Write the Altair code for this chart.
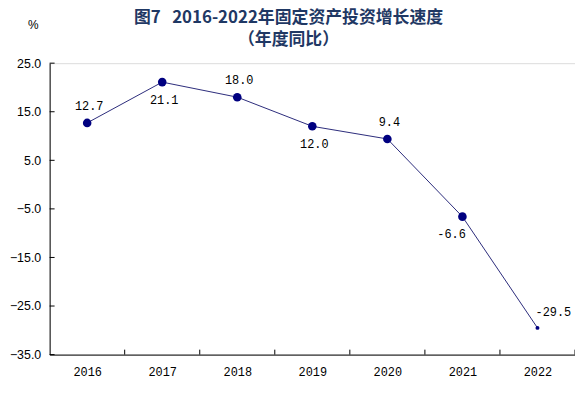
import altair as alt
import pandas as pd

years = [2016, 2017, 2018, 2019, 2020, 2021, 2022]
growth = [12.7, 21.1, 18.0, 12.0, 9.4, -6.6, -29.5]
labels = ["12.7", "21.1", "18.0", "12.0", "9.4", "-6.6", "-29.5"]
y_ticks = [25, 15, 5, -5, -15, -25, -35]
x_boundaries = [2016.5, 2017.5, 2018.5, 2019.5, 2020.5, 2021.5, 2022.5]

df = pd.DataFrame({"year": years, "value": growth, "label": labels})
ydf = pd.DataFrame({"v": y_ticks})
xdf = pd.DataFrame({"b": x_boundaries})

NAVY = "#000080"
LINE = "#2b2b7a"
H = 294

xscale = alt.Scale(domain=[2015.5, 2022.5], nice=False, zero=False)
yscale = alt.Scale(domain=[-35, 25], nice=False, zero=False)

base = alt.Chart(df)

xaxis = alt.Axis(values=years, format="d", tickSize=0, labelPadding=12, labelFontSize=12,
                 labelFont="Liberation Mono", labelColor="#000", domainColor="#000",
                 grid=False, title=None)
yaxis = alt.Axis(values=y_ticks, format=".1f", tickSize=0, labelPadding=9, labelFontSize=12.5,
                 labelFont="Liberation Sans", labelColor="#000", domainColor="#000",
                 grid=False, title="%", titleAngle=0, titleX=-17, titleY=-39,
                 titleAlign="center", titleBaseline="middle", titleFontWeight="normal",
                 titleFontSize=12, titleFont="Liberation Sans")

line = base.mark_line(color=LINE, strokeWidth=1).encode(
    x=alt.X("year:Q", scale=xscale, axis=xaxis),
    y=alt.Y("value:Q", scale=yscale, axis=yaxis),
)

pts_big = base.transform_filter(alt.datum.year < 2022).mark_point(
    filled=True, color=NAVY, size=75, opacity=1).encode(
    x=alt.X("year:Q", scale=xscale), y=alt.Y("value:Q", scale=yscale))
pts_small = base.transform_filter(alt.datum.year == 2022).mark_point(
    filled=True, color=NAVY, size=16, opacity=1).encode(
    x=alt.X("year:Q", scale=xscale), y=alt.Y("value:Q", scale=yscale))

def lbl(cond, dx, dy):
    return base.transform_filter(cond).mark_text(
        font="Liberation Mono", fontSize=12, color="#000", dx=dx, dy=dy).encode(
        x=alt.X("year:Q", scale=xscale), y=alt.Y("value:Q", scale=yscale), text="label:N")

lab_above = lbl(alt.FieldOneOfPredicate(field="year", oneOf=[2016, 2018, 2020]), 2, -17)
lab_below = lbl(alt.FieldOneOfPredicate(field="year", oneOf=[2017, 2019]), 2, 18)
lab_2021 = lbl(alt.datum.year == 2021, -11, 18)
lab_2022 = lbl(alt.datum.year == 2022, 16, -16)

ytick = alt.Chart(ydf).mark_rule(color="#000", strokeWidth=1).encode(
    y=alt.Y("v:Q", scale=yscale), x=alt.value(0), x2=alt.value(5))
xtick = alt.Chart(xdf).mark_rule(color="#000", strokeWidth=1).encode(
    x=alt.X("b:Q", scale=xscale), y=alt.value(H), y2=alt.value(H - 5))

chart = alt.layer(line, ytick, xtick, pts_big, pts_small, lab_above, lab_below, lab_2021, lab_2022).properties(
    width=530, height=H,
    autosize=alt.AutoSizeParams(type="none"),
    padding={"left": 42, "top": 54, "right": 0, "bottom": 28},
    title=alt.TitleParams(
        text=["图7\u00a0\u00a0 2016-2022年固定资产投资增长速度", "（年度同比）"],
        font="Noto Sans CJK SC", fontSize=17, fontWeight="bold", color="#1F3864",
        anchor="middle", dx=-24, offset=-31, lineHeight=23),
).configure_view(stroke=None).configure(background="white")

chart.save("out.html", embed_options={"renderer": "svg", "actions": False})
